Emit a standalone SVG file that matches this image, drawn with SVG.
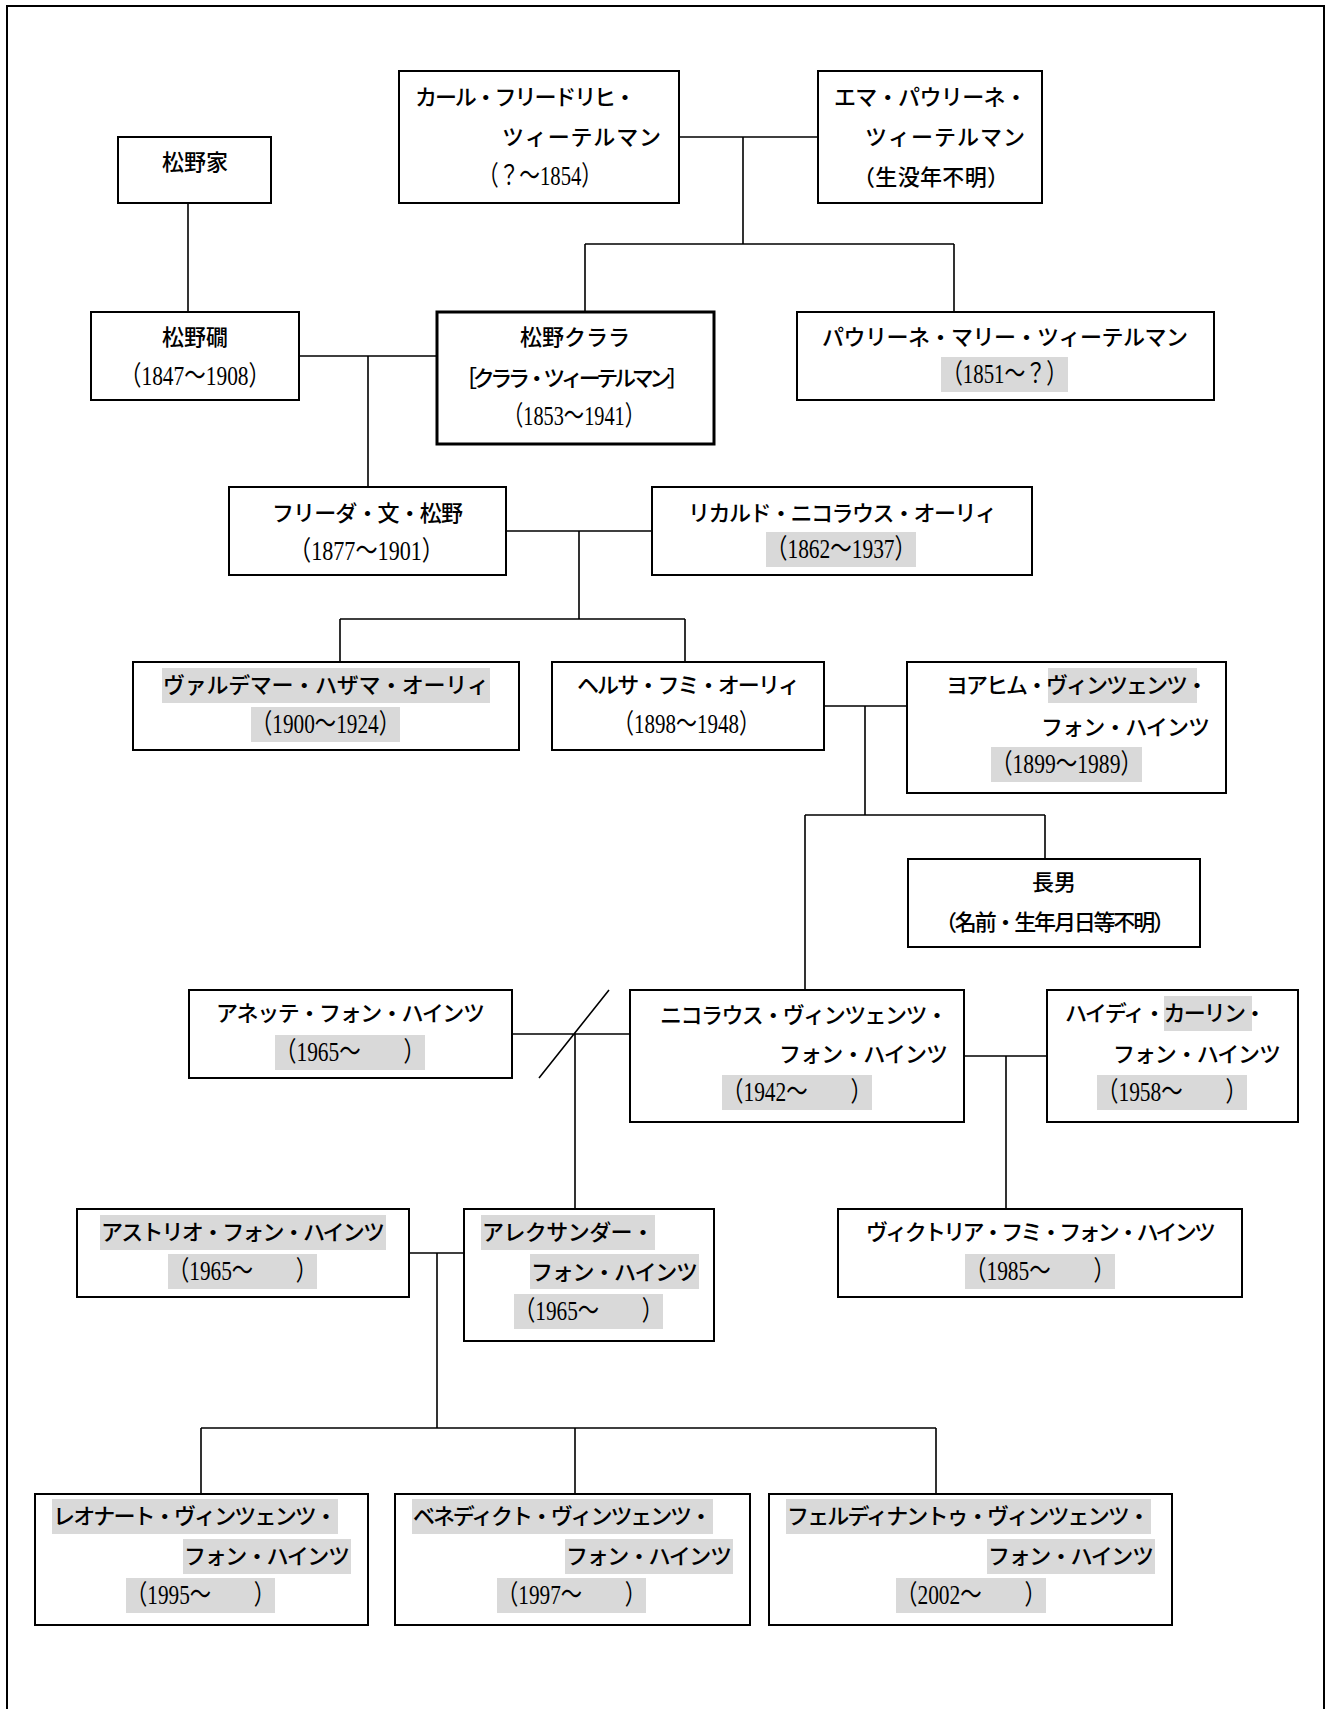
<svg xmlns="http://www.w3.org/2000/svg" width="1327" height="1709" viewBox="0 0 1327 1709">
<style>
.box{fill:#fff;stroke:#000;stroke-width:2}
.thick{stroke-width:3}
.hl{fill:#d9d9d9}
.n{font-family:"Noto Sans CJK JP","Noto Sans CJK SC",sans-serif;font-size:22px;font-weight:500;fill:#000}
.d{font-family:"Liberation Serif","Noto Sans CJK JP",serif;font-size:27px;fill:#000}
#connectors path{fill:none;stroke:#000;stroke-width:1.6}
</style>
<rect width="1327" height="1709" fill="#fff"/>
<path d="M7,1709 V6 H1324 V1709" fill="none" stroke="#000" stroke-width="2"/>

<g id="connectors">
<path d="M188,203 V312"/>
<path d="M679,137 H818 M743,137 V244 M585,244 H954 M585,244 V312 M954,244 V312"/>
<path d="M299,356 H437 M368,356 V487"/>
<path d="M506,531 H652 M579,531 V619 M340,619 H685 M340,619 V662 M685,619 V662"/>
<path d="M824,706 H907 M865,706 V815 M805,815 H1045 M1045,815 V859 M805,815 V990"/>
<path d="M512,1034 H630 M575,1034 V1209 M539,1078 L609,990"/>
<path d="M964,1056 H1047 M1006,1056 V1209"/>
<path d="M409,1253 H464 M437,1253 V1428 M201,1428 H936 M201,1428 V1494 M575,1428 V1494 M936,1428 V1494"/>
</g>

<g id="matsuno-ke">
<rect class="box" x="118" y="137" width="153" height="66"/>
<text class="n" x="162" y="170">松野家</text>
</g>

<g id="karl">
<rect class="box" x="399" y="71" width="280" height="132"/>
<text class="n" x="415" y="105" textLength="221">カール・フリードリヒ・</text>
<text class="n" x="502" y="145" textLength="159">ツィーテルマン</text>
<text class="d" x="478" y="185" textLength="124" lengthAdjust="spacingAndGlyphs">（？～1854）</text>
</g>

<g id="emma">
<rect class="box" x="818" y="71" width="224" height="132"/>
<text class="n" x="834" y="105" textLength="193">エマ・パウリーネ・</text>
<text class="n" x="865" y="145" textLength="160">ツィーテルマン</text>
<text class="n" x="853" y="185" textLength="156">（生没年不明）</text>
</g>

<g id="hazama">
<rect class="box" x="91" y="312" width="208" height="88"/>
<text class="n" x="162" y="345">松野礀</text>
<text class="d" x="120" y="385" textLength="150" lengthAdjust="spacingAndGlyphs">（1847〜1908）</text>
</g>

<g id="clara">
<rect class="box thick" x="437" y="312" width="277" height="132"/>
<text class="n" x="520" y="345" textLength="110">松野クララ</text>
<text class="n" x="455" y="386" textLength="234">［クララ・ツィーテルマン］</text>
<text class="d" x="503" y="425" textLength="142" lengthAdjust="spacingAndGlyphs">（1853～1941）</text>
</g>

<g id="pauline">
<rect class="box" x="797" y="312" width="417" height="88"/>
<text class="n" x="822" y="345" textLength="366">パウリーネ・マリー・ツィーテルマン</text>
<rect class="hl" x="941" y="357" width="127" height="35"/>
<text class="d" x="942" y="383" textLength="125" lengthAdjust="spacingAndGlyphs">（1851～？）</text>
</g>

<g id="frieda">
<rect class="box" x="229" y="487" width="277" height="88"/>
<text class="n" x="272" y="521" textLength="191">フリーダ・文・松野</text>
<text class="d" x="289" y="560" textLength="155" lengthAdjust="spacingAndGlyphs">（1877〜1901）</text>
</g>

<g id="ricardo">
<rect class="box" x="652" y="487" width="380" height="88"/>
<text class="n" x="688" y="521" textLength="309">リカルド・ニコラウス・オーリィ</text>
<rect class="hl" x="766" y="532" width="150" height="35"/>
<text class="d" x="766" y="558" textLength="150" lengthAdjust="spacingAndGlyphs">（1862～1937）</text>
</g>

<g id="waldemar">
<rect class="box" x="133" y="662" width="386" height="88"/>
<rect class="hl" x="162" y="668" width="328" height="35"/>
<text class="n" x="163" y="693" textLength="326">ヴァルデマー・ハザマ・オーリィ</text>
<rect class="hl" x="251" y="707" width="149" height="35"/>
<text class="d" x="251" y="733" textLength="149" lengthAdjust="spacingAndGlyphs">（1900～1924）</text>
</g>

<g id="helsa">
<rect class="box" x="552" y="662" width="272" height="88"/>
<text class="n" x="577" y="693" textLength="223">ヘルサ・フミ・オーリィ</text>
<text class="d" x="613" y="733" textLength="147" lengthAdjust="spacingAndGlyphs">（1898～1948）</text>
</g>

<g id="joachim">
<rect class="box" x="907" y="662" width="319" height="131"/>
<rect class="hl" x="1048" y="668" width="149" height="35"/>
<text class="n" x="946" y="693" textLength="262">ヨアヒム・ヴィンツェンツ・</text>
<text class="n" x="1041" y="735" textLength="169">フォン・ハインツ</text>
<rect class="hl" x="991" y="747" width="151" height="35"/>
<text class="d" x="991" y="773" textLength="151" lengthAdjust="spacingAndGlyphs">（1899～1989）</text>
</g>

<g id="chonan">
<rect class="box" x="908" y="859" width="292" height="88"/>
<text class="n" x="1032" y="890">長男</text>
<text class="n" x="935" y="930" textLength="240">（名前・生年月日等不明）</text>
</g>

<g id="annette">
<rect class="box" x="189" y="990" width="323" height="88"/>
<text class="n" x="216" y="1021" textLength="269">アネッテ・フォン・ハインツ</text>
<rect class="hl" x="275" y="1035" width="150" height="35"/>
<text class="d" x="275" y="1061" textLength="150" lengthAdjust="spacingAndGlyphs">（1965～　　）</text>
</g>

<g id="nikolaus">
<rect class="box" x="630" y="990" width="334" height="132"/>
<text class="n" x="660" y="1023" textLength="288">ニコラウス・ヴィンツェンツ・</text>
<text class="n" x="779" y="1062" textLength="169">フォン・ハインツ</text>
<rect class="hl" x="722" y="1075" width="150" height="35"/>
<text class="d" x="722" y="1101" textLength="150" lengthAdjust="spacingAndGlyphs">（1942～　　）</text>
</g>

<g id="heidi">
<rect class="box" x="1047" y="990" width="251" height="132"/>
<rect class="hl" x="1164" y="996" width="88" height="35"/>
<text class="n" x="1065" y="1021" textLength="201">ハイディ・カーリン・</text>
<text class="n" x="1113" y="1062" textLength="168">フォン・ハインツ</text>
<rect class="hl" x="1097" y="1075" width="150" height="35"/>
<text class="d" x="1097" y="1101" textLength="150" lengthAdjust="spacingAndGlyphs">（1958～　　）</text>
</g>

<g id="victoria">
<rect class="box" x="838" y="1209" width="404" height="88"/>
<text class="n" x="866" y="1240" textLength="350">ヴィクトリア・フミ・フォン・ハインツ</text>
<rect class="hl" x="965" y="1254" width="150" height="35"/>
<text class="d" x="965" y="1280" textLength="150" lengthAdjust="spacingAndGlyphs">（1985～　　）</text>
</g>

<g id="astrid">
<rect class="box" x="77" y="1209" width="332" height="88"/>
<rect class="hl" x="100" y="1215" width="286" height="35"/>
<text class="n" x="101" y="1240" textLength="284">アストリオ・フォン・ハインツ</text>
<rect class="hl" x="168" y="1254" width="149" height="35"/>
<text class="d" x="168" y="1280" textLength="149" lengthAdjust="spacingAndGlyphs">（1965～　　）</text>
</g>

<g id="alexander">
<rect class="box" x="464" y="1209" width="250" height="132"/>
<rect class="hl" x="481" y="1215" width="174" height="35"/>
<text class="n" x="482" y="1240" textLength="172">アレクサンダー・</text>
<rect class="hl" x="530" y="1254" width="169" height="35"/>
<text class="n" x="531" y="1280" textLength="167">フォン・ハインツ</text>
<rect class="hl" x="514" y="1294" width="149" height="35"/>
<text class="d" x="514" y="1320" textLength="149" lengthAdjust="spacingAndGlyphs">（1965～　　）</text>
</g>

<g id="leonard">
<rect class="box" x="35" y="1494" width="333" height="131"/>
<rect class="hl" x="52" y="1499" width="286" height="35"/>
<text class="n" x="53" y="1524" textLength="284">レオナート・ヴィンツェンツ・</text>
<rect class="hl" x="183" y="1539" width="168" height="35"/>
<text class="n" x="184" y="1564" textLength="166">フォン・ハインツ</text>
<rect class="hl" x="126" y="1578" width="149" height="35"/>
<text class="d" x="126" y="1604" textLength="149" lengthAdjust="spacingAndGlyphs">（1995～　　）</text>
</g>

<g id="benedikt">
<rect class="box" x="395" y="1494" width="355" height="131"/>
<rect class="hl" x="412" y="1499" width="301" height="35"/>
<text class="n" x="413" y="1524" textLength="299">ベネディクト・ヴィンツェンツ・</text>
<rect class="hl" x="565" y="1539" width="168" height="35"/>
<text class="n" x="566" y="1564" textLength="166">フォン・ハインツ</text>
<rect class="hl" x="497" y="1578" width="149" height="35"/>
<text class="d" x="497" y="1604" textLength="149" lengthAdjust="spacingAndGlyphs">（1997～　　）</text>
</g>

<g id="ferdinand">
<rect class="box" x="769" y="1494" width="403" height="131"/>
<rect class="hl" x="786" y="1499" width="365" height="35"/>
<text class="n" x="787" y="1524" textLength="363">フェルディナントゥ・ヴィンツェンツ・</text>
<rect class="hl" x="987" y="1539" width="168" height="35"/>
<text class="n" x="988" y="1564" textLength="166">フォン・ハインツ</text>
<rect class="hl" x="896" y="1578" width="150" height="35"/>
<text class="d" x="896" y="1604" textLength="150" lengthAdjust="spacingAndGlyphs">（2002～　　）</text>
</g>
</svg>
